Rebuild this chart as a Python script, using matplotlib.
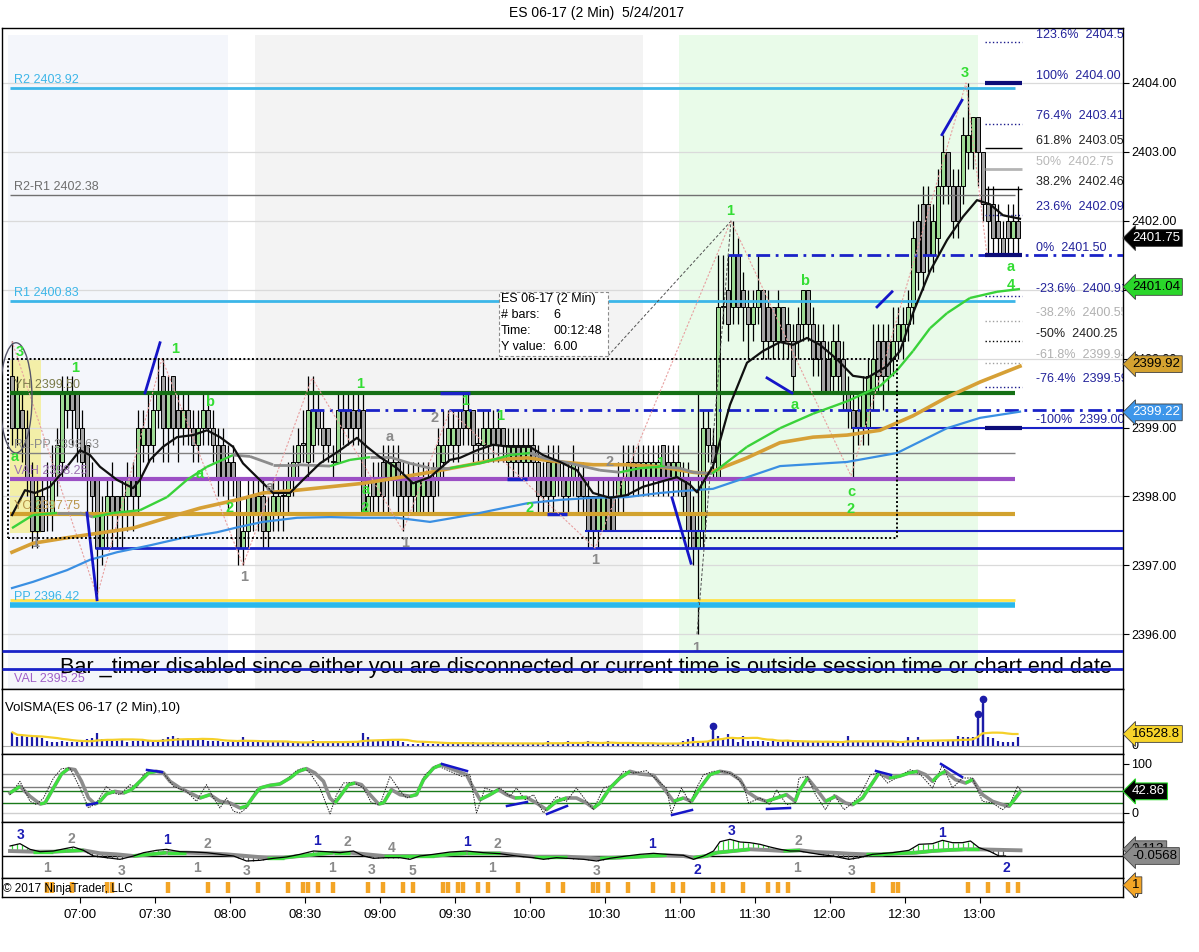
import numpy as np
import pandas as pd
import matplotlib
matplotlib.use("Agg")
import matplotlib.pyplot as plt
from matplotlib.patches import Rectangle, Ellipse
from matplotlib.collections import LineCollection

plt.rcParams['font.family'] = ['Liberation Sans', 'DejaVu Sans']

# ---------------------------------------------------------------- data
opens = [2399.75,2399.0,2399.25,2399.0,2398.25,2397.5,2398.0,2397.75,2397.75,2398.25,
 2398.5,2399.25,2399.5,2399.5,2399.0,2398.75,2398.25,2398.25,2397.25,2397.75,
 2398.0,2398.0,2397.75,2398.0,2398.25,2398.0,2398.75,2399.0,2398.75,2399.25,
 2399.75,2399.0,2399.75,2399.25,2399.0,2399.25,2399.0,2398.75,2399.0,2399.25,
 2399.0,2398.75,2398.75,2398.5,2398.5,2398.25,2397.25,2397.5,2398.0,2397.75,
 2398.0,2397.5,2397.75,2397.75,2398.0,2398.0,2398.25,2398.5,2398.75,2398.5,
 2398.75,2399.25,2399.0,2399.0,2398.5,2398.5,2399.25,2399.25,2399.25,2399.25,
 2399.25,2397.75,2398.25,2398.0,2398.5,2398.25,2398.25,2398.5,2398.25,2398.25,
 2398.0,2397.75,2398.0,2398.25,2398.25,2398.25,2398.5,2398.75,2398.75,2399.0,
 2399.25,2399.0,2399.25,2398.75,2398.75,2398.75,2399.0,2399.0,2399.0,2398.5,
 2398.5,2398.75,2398.5,2398.5,2398.75,2398.5,2398.25,2398.5,2398.0,2398.5,
 2398.25,2398.0,2398.25,2398.25,2398.25,2398.0,2398.0,2397.5,2397.5,2398.0,
 2398.0,2398.0,2398.0,2398.25,2398.5,2398.5,2398.25,2398.25,2398.25,2398.25,
 2398.75,2398.5,2398.25,2398.25,2398.25,2398.25,2397.75,2397.25,2397.5,2399.0,
 2398.75,2398.25,2400.75,2401.0,2400.75,2401.5,2401.0,2400.75,2400.5,2400.75,
 2401.0,2400.75,2400.75,2400.25,2400.75,2400.5,2400.25,2400.5,2400.5,2401.0,
 2400.5,2400.25,2400.25,2400.0,2399.75,2400.25,2400.0,2399.5,2399.25,2399.25,
 2399.0,2399.0,2399.5,2400.25,2400.25,2400.25,2400.0,2400.25,2400.25,2400.5,
 2400.75,2402.0,2402.25,2402.25,2401.5,2401.75,2402.5,2403.0,2402.5,2402.5,
 2402.5,2403.0,2403.0,2403.5,2403.0,2402.25,2402.25,2402.0,2401.75,2402.0,
 2401.75,2402.0]
highs = [2400.25,2399.75,2399.5,2399.25,2398.5,2398.25,2398.25,2398.5,2398.75,2399.0,
 2399.75,2399.75,2399.75,2399.5,2399.25,2398.75,2398.5,2398.25,2398.0,2398.25,
 2398.5,2398.0,2398.25,2398.5,2398.5,2399.25,2399.25,2399.5,2399.5,2400.0,
 2400.0,2399.75,2399.75,2399.5,2399.5,2399.5,2399.25,2399.25,2399.5,2399.5,
 2399.25,2399.0,2399.0,2398.75,2398.75,2398.25,2397.75,2398.25,2398.25,2398.25,
 2398.25,2398.0,2398.25,2398.25,2398.25,2398.5,2398.75,2399.0,2399.25,2399.75,
 2399.75,2399.5,2399.25,2399.0,2398.75,2399.5,2399.5,2399.5,2399.5,2399.5,
 2399.5,2398.25,2398.5,2398.5,2398.75,2398.75,2398.75,2398.75,2398.5,2398.5,
 2398.5,2398.5,2398.5,2398.5,2398.5,2399.0,2399.25,2399.25,2399.25,2399.25,
 2399.5,2399.5,2399.25,2399.0,2399.25,2399.25,2399.25,2399.25,2399.0,2399.0,
 2399.0,2399.0,2399.0,2399.0,2399.0,2398.75,2398.5,2398.75,2398.75,2398.75,
 2398.5,2398.5,2398.75,2398.5,2398.5,2398.25,2398.0,2398.25,2398.25,2398.25,
 2398.25,2398.5,2398.75,2398.75,2398.75,2398.75,2398.75,2398.75,2398.75,2398.75,
 2398.75,2398.75,2398.75,2398.75,2398.5,2398.5,2398.0,2399.5,2399.25,2399.25,
 2399.0,2401.5,2401.5,2401.5,2402.0,2401.75,2401.25,2401.0,2401.0,2401.5,
 2401.0,2401.0,2400.75,2401.0,2400.75,2400.75,2400.5,2400.75,2401.0,2401.0,
 2400.75,2400.5,2400.5,2400.25,2400.5,2400.5,2400.25,2399.75,2399.5,2399.5,
 2399.75,2400.0,2400.5,2400.5,2400.5,2400.5,2400.75,2400.75,2400.75,2401.0,
 2402.0,2402.25,2402.5,2402.5,2402.25,2402.75,2403.25,2403.0,2402.75,2402.75,
 2403.5,2404.0,2403.5,2403.5,2403.0,2402.5,2402.5,2402.25,2402.0,2402.25,
 2402.25,2402.5]
lows = [2398.75,2398.75,2398.5,2398.0,2397.25,2397.25,2397.5,2397.5,2397.5,2398.0,
 2398.25,2399.0,2398.75,2398.5,2398.25,2397.75,2397.75,2396.5,2397.0,2397.25,
 2397.25,2397.25,2397.25,2397.5,2397.5,2397.75,2398.5,2398.5,2398.5,2399.0,
 2398.5,2398.5,2398.75,2398.5,2398.75,2398.75,2398.5,2398.5,2398.75,2398.75,
 2398.5,2398.0,2398.0,2397.75,2398.0,2397.0,2397.0,2397.25,2397.5,2397.5,
 2397.25,2397.25,2397.5,2397.5,2397.5,2397.75,2398.0,2398.25,2398.5,2398.25,
 2398.5,2398.75,2398.5,2398.5,2398.25,2398.5,2398.75,2398.75,2398.75,2398.75,
 2397.75,2397.75,2397.75,2397.75,2397.75,2397.75,2398.0,2397.75,2397.5,2397.75,
 2397.75,2397.75,2397.75,2397.75,2397.75,2398.0,2398.25,2398.5,2398.5,2398.5,
 2398.75,2398.75,2398.5,2398.5,2398.5,2398.5,2398.5,2398.5,2398.5,2398.25,
 2398.25,2398.25,2398.25,2398.25,2398.25,2397.75,2397.75,2397.75,2397.75,2398.0,
 2397.75,2397.75,2398.0,2397.75,2397.75,2397.25,2397.25,2397.25,2397.5,2397.5,
 2397.5,2397.75,2397.75,2398.0,2398.0,2398.0,2398.0,2398.0,2398.0,2398.0,
 2398.0,2398.0,2398.0,2398.0,2397.75,2397.25,2397.0,2396.0,2397.25,2398.5,
 2398.25,2398.25,2400.5,2400.25,2400.5,2400.5,2400.25,2400.0,2400.25,2400.5,
 2400.0,2400.0,2400.0,2400.0,2400.0,2400.0,2399.5,2400.0,2400.25,2400.25,
 2399.75,2399.75,2399.5,2399.5,2399.5,2399.5,2399.25,2399.0,2398.25,2398.75,
 2398.75,2398.75,2399.25,2399.5,2399.25,2399.5,2399.75,2400.0,2400.0,2400.25,
 2400.5,2401.0,2401.0,2401.25,2401.25,2401.5,2402.25,2402.25,2401.75,2401.75,
 2402.25,2402.75,2402.75,2402.5,2402.0,2401.5,2401.5,2401.5,2401.5,2401.5,
 2401.5,2401.5]
closes = [2399.0,2399.5,2399.0,2398.25,2397.5,2398.0,2397.5,2397.75,2398.25,2398.75,
 2399.5,2399.5,2399.25,2399.0,2398.5,2398.25,2398.0,2397.25,2397.75,2398.0,
 2397.75,2397.75,2398.0,2398.25,2398.0,2399.0,2399.0,2398.75,2399.25,2399.5,
 2399.0,2399.5,2399.0,2399.0,2399.25,2399.0,2398.75,2399.0,2399.25,2399.0,
 2398.75,2398.25,2398.25,2398.25,2398.25,2397.25,2397.5,2398.0,2397.75,2398.0,
 2397.5,2397.75,2398.0,2398.0,2398.0,2398.25,2398.5,2398.75,2398.75,2399.25,
 2399.25,2399.0,2398.75,2398.75,2398.5,2399.25,2399.0,2399.0,2399.0,2399.0,
 2397.75,2398.0,2398.0,2398.25,2398.0,2398.5,2398.5,2398.0,2398.0,2398.0,
 2398.25,2398.25,2398.25,2398.0,2398.0,2398.75,2398.75,2399.0,2399.0,2398.75,
 2399.0,2399.25,2398.75,2398.75,2399.0,2399.0,2398.75,2398.75,2398.75,2398.75,
 2398.75,2398.5,2398.75,2398.75,2398.5,2398.0,2398.0,2398.0,2398.5,2398.25,
 2398.0,2398.25,2398.5,2398.0,2398.0,2397.5,2397.5,2398.0,2398.0,2397.5,
 2397.5,2398.25,2398.25,2398.5,2398.25,2398.25,2398.5,2398.5,2398.5,2398.5,
 2398.25,2398.25,2398.5,2398.5,2398.0,2397.5,2397.25,2397.5,2399.0,2398.75,
 2398.5,2400.75,2400.75,2400.5,2401.5,2400.75,2400.75,2400.5,2400.75,2401.0,
 2400.25,2400.25,2400.25,2400.75,2400.25,2400.25,2399.75,2400.25,2401.0,2400.5,
 2400.0,2400.0,2399.5,2399.5,2400.25,2399.75,2399.5,2399.25,2399.0,2399.0,
 2399.5,2399.75,2400.0,2399.75,2399.75,2399.75,2400.25,2400.5,2400.5,2400.75,
 2401.75,2401.25,2401.25,2401.5,2402.0,2402.5,2403.0,2402.5,2402.0,2402.0,
 2403.25,2403.25,2403.5,2403.0,2402.25,2402.0,2401.75,2401.75,2401.5,2401.75,
 2402.0,2401.75]
volumes = [16900,10600,12700,10600,10600,10600,9700,6400,4200,4200,
 6400,4200,4200,4200,6400,8500,9700,15700,8500,7200,
 6400,6400,7200,4200,6400,6400,7200,6400,4200,7200,
 8500,10600,12700,9700,8500,8500,7200,7200,7200,6400,
 6400,5500,4200,4200,5500,6400,10600,6400,6400,4200,
 4200,4200,4200,4200,4200,5100,4200,4200,4200,4200,
 7200,4200,5100,4200,4200,4200,5100,5500,4200,6400,
 15700,10600,7200,6400,6400,6400,6400,6400,
 4200,2900,2900,2900,6400,2900,2900,2900,2900,4200,
 2900,2900,2900,2900,4200,2900,2900,2900,4200,2900,
 2900,2900,2900,2900,2900,2900,2900,2900,2900,6400,
 2900,2900,2900,6400,2900,2900,2900,6400,2900,2900,
 2900,6400,2900,2900,2900,2900,2900,2900,2900,2900,
 2900,2900,2900,2900,2900,2900,6400,8500,10600,
 6400,4200,6400,19100,12700,8500,14800,8500,4200,12700,
 6400,6400,6400,6400,4200,6400,4200,6400,6400,6400,
 5100,4200,5100,4200,5100,4200,5100,5100,4200,5100,
 12700,5100,5100,4200,5100,4200,5100,5100,4200,5100,5100,
 5100,11400,5100,11400,5100,6400,5100,6400,5100,6400,
 6400,12700,10600,10600,11400,33900,52900,10600,9700,6400,
 4200,4200,4200,10600]
volume_spikes = [140, 193, 194]
signal_bars = [7,8,12,19,20,31,39,43,49,55,58,59,61,64,71,74,78,80,86,87,89,90,93,95,
               101,107,110,116,117,119,123,128,132,134,140,142,146,151,153,155,
               172,176,177,191,195,199,201]

# moving averages (bar index, price)
ma_black_idx = [-0.1,2.5,4.5,7.5,10.9,13.5,15.5,17.5,20.9,24.1,25.5,27.5,30.1,32.9,36.1,
 38.9,41.5,44.1,46.1,48.9,52.1,55.5,58.1,61.5,65.5,68.9,70.9,73.5,76.9,80.1,83.5,87.5,
 89.5,92.9,96.1,99.5,103.5,106.1,109.5,112.9,116.1,119.5,122.9,126.1,129.5,132.9,135.5,
 136.9,140.1,143.5,146.9,150.1,153.5,156.1,158.9,161.5,164.9,168.1,170.9,174.9,177.5,
 180.1,183.5,186.9,190.1,192.9,195.5,198.1,201.5]
ma_black_val = [2397.73,2398.09,2398.05,2398.14,2398.43,2398.67,2398.60,2398.43,2398.24,
 2398.12,2398.24,2398.53,2398.72,2398.86,2398.89,2398.96,2398.86,2398.72,2398.48,2398.28,
 2398.05,2398.05,2398.24,2398.48,2398.67,2398.85,2398.72,2398.57,2398.41,2398.19,2398.28,
 2398.53,2398.56,2398.67,2398.75,2398.72,2398.72,2398.60,2398.50,2398.38,2398.05,2397.98,
 2398.02,2398.14,2398.21,2398.28,2398.17,2398.06,2398.44,2399.33,2399.94,2400.11,2400.24,
 2400.20,2400.30,2400.20,2399.99,2399.75,2399.72,2399.89,2400.11,2400.66,2401.27,2401.72,
 2402.06,2402.30,2402.24,2402.08,2402.03]
ma_green_idx = [-0.1,4.1,8.9,13.5,16.1,20.1,25.5,30.9,34.9,38.9,44.1,47.5,52.1,56.9,63.5,
 67.5,71.5,75.5,79.5,83.5,87.5,91.5,93.5,99.5,103.5,106.1,111.5,117.5,121.5,125.5,129.5,
 133.5,136.1,139.9,146.9,153.5,160.1,166.9,173.5,176.9,180.1,183.5,186.9,191.5,196.9,201.5]
ma_green_val = [2397.54,2397.73,2397.76,2397.76,2397.70,2397.76,2397.80,2397.99,2398.24,
 2398.43,2398.60,2398.58,2398.46,2398.46,2398.44,2398.53,2398.57,2398.57,2398.48,2398.41,
 2398.41,2398.46,2398.48,2398.60,2398.63,2398.56,2398.48,2398.38,2398.35,2398.41,2398.43,
 2398.41,2398.35,2398.33,2398.72,2398.99,2399.20,2399.38,2399.60,2399.83,2400.11,2400.44,
 2400.66,2400.88,2400.97,2401.01]
ma_gold_idx = [-0.1,4.1,10.9,17.5,24.1,30.9,37.5,45.5,50.1,56.9,63.5,70.1,76.9,83.5,91.5,
 96.1,102.9,109.5,116.1,122.9,129.5,136.1,138.9,146.9,153.5,160.1,166.9,173.5,180.1,
 186.9,193.5,201.5]
ma_gold_val = [2397.19,2397.32,2397.40,2397.47,2397.54,2397.69,2397.83,2397.96,2398.05,
 2398.09,2398.14,2398.19,2398.27,2398.35,2398.46,2398.53,2398.56,2398.50,2398.46,2398.46,
 2398.43,2398.35,2398.33,2398.56,2398.78,2398.86,2398.89,2398.96,2399.17,2399.44,2399.66,
 2399.89]
ma_blue_idx = [-0.1,4.1,10.9,15.5,20.9,27.5,34.1,40.9,45.5,50.1,56.9,63.5,70.1,76.9,83.5,
 91.5,96.1,102.9,109.5,116.1,122.9,129.5,136.1,140.1,153.5,166.9,176.9,186.9,193.5,201.5]
ma_blue_val = [2396.67,2396.76,2396.93,2397.08,2397.19,2397.29,2397.40,2397.48,2397.56,
 2397.63,2397.69,2397.70,2397.69,2397.69,2397.63,2397.73,2397.80,2397.90,2397.95,2397.98,
 2397.99,2398.05,2398.09,2398.11,2398.44,2398.50,2398.63,2398.99,2399.14,2399.23]

# stochastics (bar index, value)
stoch_idx = [-0.5,1.5,3.5,5.5,6.5,8.2,9.8,11.2,12.5,13.8,15.2,16.5,17.5,18.8,20.5,22.2,
 23.8,25.5,27.2,28.8,30.2,31.5,33.5,35.5,37.5,39.5,41.5,43.5,45.5,46.8,48.2,49.5,51.5,
 53.5,55.5,57.2,58.8,60.5,62.2,63.5,64.5,65.5,67.2,68.5,69.8,71.5,73.2,74.2,75.8,
 77.5,79.5,80.8,82.2,84.2,85.8,88.2,90.8,91.8,93.5,95.5,97.2,98.8,100.5,102.8,104.8,
 106.8,108.8,110.8,112.8,114.8,116.2,117.5,119.5,121.5,123.5,125.5,128.2,130.2,132.2,
 134.2,135.8,137.5,139.5,141.5,143.5,145.5,146.8,148.8,150.8,152.8,154.8,156.5,
 157.3,159.0,160.6,162.6,164.6,166.6,168.0,170.0,171.3,173.3,175.3,177.3,179.3,181.0,
 182.6,184.0,185.3,186.6,188.6,190.6,192.0,194.0,196.0,198.0,199.3,200.6,201.6]
stoch_val = [40.8,54.4,34.0,18.4,20.4,51.0,79.6,90.5,88.4,64.6,30.6,18.4,23.8,38.8,44.2,
 40.8,47.6,64.6,81.6,85.0,81.6,64.6,51.0,40.8,30.6,37.4,23.8,20.4,10.2,13.6,34.0,51.0,
 56.5,59.2,71.4,85.0,90.5,81.6,64.6,30.6,20.4,34.0,57.8,61.2,57.8,37.4,18.4,20.4,47.6,
 37.4,34.0,37.4,68.0,91.8,98.6,88.4,78.2,57.8,27.2,37.4,47.6,37.4,30.6,31.9,20.4,6.8,
 23.8,30.6,30.6,20.4,10.2,20.4,51.0,71.4,85.0,79.6,76.9,51.0,23.8,30.6,23.8,51.0,78.2,
 85.0,81.6,68.0,44.2,30.6,23.8,30.6,37.4,23.8,
 44.2,71.4,51.0,23.8,34.0,20.4,17.0,30.6,51.0,81.6,71.4,74.8,81.6,85.0,78.2,64.6,78.2,
 85.0,68.0,61.2,68.0,37.4,23.8,17.0,13.6,30.6,44.2]
stoch_raw_idx = [-0.5,1.5,3.5,4.8,6.2,8.2,9.8,11.5,13.5,15.2,16.8,18.8,20.2,21.5,23.5,
 24.8,26.2,27.5,30.2,32.2,34.8,36.8,38.8,40.2,41.5,42.8,44.2,45.5,46.8,48.8,50.8,52.8,
 54.8,56.8,58.2,59.5,61.5,63.5,64.8,66.2,68.2,70.2,71.8,73.5,75.5,
 77.5,78.8,80.8,82.5,84.8,87.5,89.8,91.5,92.8,94.5,96.2,97.5,99.5,100.8,102.5,104.2,
 106.2,108.8,110.8,112.8,114.8,116.2,118.2,120.2,122.2,124.2,126.8,128.8,130.8,131.8,
 133.8,135.5,136.8,138.2,140.2,142.2,144.2,146.2,147.2,149.5,151.5,152.8,154.8,156.5,
 157.3,159.0,160.6,162.6,164.3,166.3,168.0,169.6,171.6,173.3,175.0,177.3,179.6,181.6,
 184.0,186.0,188.0,190.0,192.0,194.0,196.0,198.0,199.6,201.0,201.6]
stoch_raw_val = [37.4,64.6,23.8,17.0,30.6,71.4,90.5,91.8,51.0,10.2,20.4,54.4,40.8,37.4,
 57.8,51.0,78.2,86.4,81.6,54.4,44.2,23.8,57.8,30.6,10.2,30.6,3.4,0,10.2,47.6,54.4,57.8,
 68.0,86.4,91.8,81.6,51.0,-2,37.4,61.2,62.6,51.0,20.4,17.0,74.8,
 45,30.6,37.4,78.2,97.3,85.0,74.8,78.2,0,51.0,44.2,51.0,34.0,51.0,27.2,37.4,0,34.0,
 23.8,51.0,23.8,6.8,51.0,57.8,85.0,81.6,86.4,68.0,51.0,0,51.0,20.4,51.0,78.2,85.0,85.0,
 78.2,57.8,20.4,30.6,17.0,47.6,17.0,20.4,
 71.4,74.8,37.4,6.8,37.4,6.8,20.4,37.4,78.2,81.6,61.2,74.8,88.4,78.2,51.0,98.6,51.0,
 71.4,71.4,23.8,20.4,6.8,20.4,54.4,47.6]

# MACD-style oscillator (bar index, value)
sig_idx = [-0.5,4.2,8.2,10.8,14.2,17.5,20.8,24.2,27.5,30.8,34.8,38.8,42.8,46.8,50.8,54.2,
 57.5,60.8,64.2,67.5,70.8,74.2,77.5,84.2,87.5,90.8,97.5,100.8,104.2,110.8,114.2,117.5,
 120.8,124.2,127.5,130.8,134.2,136.2,138.8,140.8,144.2,147.5,150.8,154.2,157.5,160.6,
 164.0,167.3,170.6,174.0,177.3,180.6,184.0,187.3,190.6,193.3,196.0,198.6,201.6]
sig_val = [0.125,0.108,0.108,0.125,0.142,0.067,0.042,0,0.042,0.083,0.083,0.067,0.042,0,
 -0.042,-0.042,0,0.042,0.083,0.083,0.042,0,0,0,0.042,0.067,0.067,0.025,-0.017,-0.017,
 -0.042,-0.058,-0.042,-0.025,0,0.017,0,-0.042,0,0.083,0.125,0.167,0.15,0.125,0.142,0.1,
 0.083,0.058,0.042,0.042,0.067,0.083,0.125,0.15,0.167,0.167,0.158,0.15,0.142]
macd_idx = [-0.5,1.5,3.5,5.5,8.2,10.8,12.2,14.2,16.2,18.8,21.5,24.2,26.2,28.8,30.8,33.5,
 36.2,38.8,41.5,44.2,46.8,49.5,52.2,54.8,57.5,60.2,62.8,65.5,68.2,70.2,72.2,74.8,77.5,
 79.5,81.5,84.2,87.5,90.8,94.2,97.5,100.8,104.2,106.2,108.8,110.8,114.2,116.8,119.5,
 122.8,125.5,128.2,130.8,134.2,136.2,138.2,140.2,141.5,143.5,145.5,147.5,149.5,151.5,
 153.5,155.5,157.3,159.3,161.3,164.0,167.3,169.3,172.0,176.0,179.3,181.3,184.0,186.0,
 188.0,190.0,191.6,193.3,195.3,197.3,198.6]
macd_val = [0.25,0.308,0.167,0.108,0.125,0.192,0.225,0.142,0,-0.042,-0.083,0,0.083,0.142,
 0.167,0.108,0.1,0.083,0.042,0,-0.125,-0.108,-0.058,-0.025,0.042,0.125,0.108,0.083,0.125,
 0,-0.058,-0.042,-0.042,-0.083,0,0.042,0.1,0.125,0.083,0.058,0,-0.042,-0.083,-0.042,
 -0.058,-0.083,-0.125,-0.058,0,0.042,0.067,0.042,0.017,-0.083,0,0.125,0.358,0.417,0.35,
 0.333,0.292,0.225,0.167,0.125,0.125,0.083,0.042,0,-0.083,-0.042,0.042,0.083,0.142,
 0.292,0.308,0.392,0.333,0.333,0.375,0.208,0.125,0,0]

# price levels
level_names = ["R2", "R2-R1", "R1", "YH", "R1-PP", "VAH", "YC", "PP", "VAL"]
level_prices = [2403.92, 2402.38, 2400.83, 2399.50, 2398.63, 2398.25, 2397.75, 2396.42, 2395.25]
level_colors = ["#3cb6e8", "#707070", "#3cb6e8", "#157015", "#808080", "#9b4fc4", "#d2a22e", "#2ab8ec", "#9b4fc4"]
level_text_colors = ["#3cb6e8", "#6e6e6e", "#3cb6e8", "#7a7a4a", "#8c8c8c", "#9a70b0", "#b8954a", "#3cb6e8", "#a060c8"]
level_widths = [2.0, 1.0, 2.0, 3.0, 1.0, 3.0, 3.0, 4.0, 0.0]
yl_price = 2396.50

fib_pcts = ["123.6%", "100%", "76.4%", "61.8%", "50%", "38.2%", "23.6%", "0%",
            "-23.6%", "-38.2%", "-50%", "-61.8%", "-76.4%", "-100%"]
fib_prices = [2404.59, 2404.00, 2403.41, 2403.05, 2402.75, 2402.46, 2402.09, 2401.50,
              2400.91, 2400.55, 2400.25, 2399.94, 2399.59, 2399.00]

time_labels = ["07:00", "07:30", "08:00", "08:30", "09:00", "09:30", "10:00",
               "10:30", "11:00", "11:30", "12:00", "12:30", "13:00"]

# ---------------------------------------------------------------- helpers
W, H = 1199, 952
n = len(closes)
times = pd.date_range("2017-05-24 06:33", periods=n, freq="2min")
t0 = pd.Timestamp("2017-05-24 07:00")
bar_m = np.asarray((times - t0) / pd.Timedelta(minutes=1), dtype=float)


def idx2m(idx):
    return -27.0 + 2.0 * np.asarray(idx, dtype=float)


def clock(s):
    return (pd.Timestamp("2017-05-24 " + s) - t0) / pd.Timedelta(minutes=1)


def rect(x0, y0, x1, y1):
    return [x0 / W, 1 - y1 / H, (x1 - x0) / W, (y1 - y0) / H]


fig = plt.figure(figsize=(W / 100, H / 100), dpi=100)
fig.patch.set_facecolor("white")
ax = fig.add_axes(rect(2, 28, 1123, 689))
axv = fig.add_axes(rect(2, 689, 1123, 754))
axs = fig.add_axes(rect(2, 754, 1123, 822))
axm = fig.add_axes(rect(2, 822, 1123, 878))
axe = fig.add_axes(rect(2, 878, 1123, 897))
XL = (clock("06:28") + 0.8, clock("13:57") + 0.2)
for a in (ax, axv, axs, axm, axe):
    a.set_xlim(*XL)
    a.yaxis.tick_right()
    a.tick_params(axis="y", direction="out", length=4, width=0.8, pad=2, labelsize=9)
    a.tick_params(axis="x", bottom=False, labelbottom=False)
    for s in a.spines.values():
        s.set_linewidth(1.0)
        s.set_color("black")

YLO, YHI = 2395.205, 2404.798
ax.set_ylim(YLO, YHI)
ax.set_yticks(np.arange(2396, 2405))
ax.set_yticklabels([f"{v:.2f}" for v in np.arange(2396, 2405)])
for v in np.arange(2396, 2405):
    ax.axhline(v, color="#dadada", lw=0.9, zorder=0.5)

# session shading
ax.add_patch(Rectangle((-28.8, YLO), 59.2 + 28.8, 2404.70 - YLO, fc="#f4f6fb", ec="none", zorder=0.2))
ax.add_patch(Rectangle((70.0, YLO), 225.2 - 70.0, 2404.70 - YLO, fc="#f3f3f3", ec="none", zorder=0.2))
ax.add_patch(Rectangle((239.6, YLO), 359.2 - 239.6, 2404.70 - YLO, fc="#e9fbe9", ec="none", zorder=0.2))
# yellow highlight and ellipse
ax.add_patch(Rectangle((-28.0, 2397.47), 12.4, 2399.98 - 2397.47,
                       fc="#f3ee9a", ec="none", alpha=0.85, zorder=0.3))
ax.add_patch(Ellipse((-25.6, 2399.43), 12.8, 1.6, fill=False, ec="#55556a", lw=1.0, zorder=6))

# candles
ax.vlines(bar_m, lows, highs, color="black", lw=0.9, zorder=2)
for i in range(n):
    o, c = opens[i], closes[i]
    lo, hi = min(o, c), max(o, c)
    fc = "#9edb94" if c > o else "#a3a3a3"
    hgt = max(hi - lo, 0.02)
    ax.add_patch(Rectangle((bar_m[i] - 0.8, lo), 1.6, hgt, fc=fc, ec="black", lw=0.7, zorder=2.2))

# level lines + labels
x_lvl0, x_lvl1 = -28.0, 374.0
for name, p, col, tcol, lw in zip(level_names, level_prices, level_colors, level_text_colors, level_widths):
    if lw > 0:
        ax.hlines(p, x_lvl0, x_lvl1, color=col, lw=lw, zorder=3)
        ax.text(-26.4, p + 0.03, f"{name} {p:.2f}", color=tcol, fontsize=9, va="bottom", ha="left", zorder=6)
    else:
        ax.text(-26.4, p + 0.10, f"{name} {p:.2f}", color=tcol, fontsize=9, va="center", ha="left", zorder=6)
ax.hlines(yl_price, x_lvl0, x_lvl1, color="#ffe24a", lw=2.0, zorder=3)

# blue support / resistance lines
BLUE = "#1a22c8"
ax.hlines(2397.25, 6.0, XL[1], color=BLUE, lw=2.0, zorder=3)
ax.hlines(2397.50, 202.0, XL[1], color=BLUE, lw=1.5, zorder=3)
ax.hlines(2399.00, 308.8, XL[1], color=BLUE, lw=1.5, zorder=3)
ax.hlines(2399.25, 92.0, XL[1], color=BLUE, lw=2.0, linestyles=(0, (5, 2, 1, 2)), zorder=3)
ax.hlines(2401.50, 259.2, XL[1], color=BLUE, lw=2.0, linestyles=(0, (5, 2, 1, 2)), zorder=3)
ax.hlines([2395.75, 2395.50], XL[0], XL[1], color=BLUE, lw=2.0, zorder=7)
ax.hlines(2399.50, 144.0, 156.0, color=BLUE, lw=2.5, zorder=3.5)
ax.hlines(2398.25, 170.8, 178.8, color=BLUE, lw=2.5, zorder=3.5)
ax.hlines(2397.75, 186.8, 194.8, color=BLUE, lw=2.5, zorder=3.5)

# fib levels at right
fx0, fx1 = 362.0, 376.8
fib_styles = {"123.6%": ("#1a1a8c", 1.0, ":"), "100%": ("#0c0c78", 3.0, "-"),
              "76.4%": ("#1a1a8c", 1.0, ":"), "61.8%": ("black", 1.0, "-"),
              "50%": ("#b4b4b4", 2.0, "-"), "38.2%": ("black", 1.0, "-"),
              "23.6%": ("#1a1a8c", 1.0, ":"), "0%": ("#0c0c78", 3.0, "-"),
              "-23.6%": ("#1a1a8c", 1.0, ":"), "-38.2%": ("#a0a0a0", 1.0, ":"),
              "-50%": ("black", 1.0, ":"), "-61.8%": ("#a0a0a0", 1.0, ":"),
              "-76.4%": ("#1a1a8c", 1.0, ":"), "-100%": ("#0c0c78", 3.0, "-")}
fib_text = {"#1a1a8c": "#22229a", "#0c0c78": "#22229a", "black": "#222222",
            "#b4b4b4": "#b8b8b8", "#a0a0a0": "#b0b0b0"}
for pct, p in zip(fib_pcts, fib_prices):
    col, lw, ls = fib_styles[pct]
    ax.hlines(p, fx0, fx1, color=col, lw=lw, linestyles=ls, zorder=4)
    ax.text(382.4, p + 0.02, f"{pct}  {p:.2f}", color=fib_text[col], fontsize=9,
            va="bottom", ha="left", zorder=6, clip_on=True)

# moving averages
ax.plot(idx2m(ma_blue_idx), ma_blue_val, color="#3a8fe2", lw=1.6, zorder=4)
ax.plot(idx2m(ma_gold_idx), ma_gold_val, color="#d6a036", lw=2.6, zorder=4)
gx, gy = idx2m(ma_green_idx), np.asarray(ma_green_val)
segs = [[(gx[k], gy[k]), (gx[k + 1], gy[k + 1])] for k in range(len(gx) - 1)]
cols = ["#3ad23a" if gy[k + 1] - gy[k] > 0.01 else "#8c8c8c" for k in range(len(gx) - 1)]
lws = [1.7 if c == "#3ad23a" else 2.0 for c in cols]
ax.add_collection(LineCollection(segs, colors=cols, linewidths=lws, zorder=4.1))
ax.plot(idx2m(ma_black_idx), ma_black_val, color="#101010", lw=1.6, zorder=4.2)

# zigzag swings
zz_t = [-27.2, 6.8, 32.8, 65.2, 92.8, 129.2, 148.0, 206.0, 260.4, 308.4, 354.4, 362.8]
zz_p = [2400.25, 2396.55, 2400.0, 2397.0, 2399.72, 2397.5, 2399.25, 2397.25, 2402.0, 2398.3, 2404.0, 2401.5]
ax.plot(zz_t, zz_p, color="#e8a0a0", lw=0.8, ls=(0, (2, 1.5)), zorder=3.6)
ax.plot([246.8, 260.4], [2396.0, 2402.0], color="#505050", lw=0.7, ls=(0, (3, 2)), zorder=3.6)
ax.plot([211.2, 260.0], [2400.04, 2401.98], color="#505050", lw=0.7, ls=(0, (3, 2)), zorder=3.6)

# blue trend annotations
blue_marks = [((2.8, 2397.76), (6.8, 2396.50)), ((26.0, 2399.50), (32.0, 2400.23)),
              ((236.8, 2397.98), (244.4, 2397.03)), ((274.8, 2399.72), (284.8, 2399.50)),
              ((318.8, 2400.75), (324.8, 2400.97)), ((344.8, 2403.25), (352.8, 2403.75))]
for (a0, b0), (a1, b1) in blue_marks:
    ax.plot([a0, a1], [b0, b1], color="#1515c8", lw=2.0, zorder=5)

# dotted rectangle
ax.add_patch(Rectangle((-28.8, 2397.40), 326.8 + 28.8, 2400.0 - 2397.40, fill=False,
                       ec="black", lw=1.4, ls=(0, (1, 1.2)), zorder=5))

# wave labels
green_labels = [(-24, 2400.10, "3"), (-2, 2399.86, "1"), (38, 2400.14, "1"), (52, 2399.37, "b"),
                (-26, 2398.57, "a"), (48, 2398.33, "a"), (60, 2397.83, "2"), (112, 2399.63, "1"),
                (114.4, 2398.09, "a"), (114, 2397.83, "2"), (154, 2399.38, "1"), (168, 2399.17, "1"),
                (180, 2397.83, "2"), (232, 2398.48, "1"), (260, 2402.14, "1"), (290, 2401.13, "b"),
                (286, 2399.33, "a"), (308.4, 2398.06, "c"), (308.4, 2397.82, "2"), (354, 2404.15, "3"),
                (372.4, 2401.33, "a"), (372.4, 2401.07, "4")]
for t, p, s in green_labels:
    ax.text(t, p, s, color="#33dd33", fontsize=10.5, fontweight="bold", ha="center", va="center", zorder=6)
gray_labels = [(-18, 2397.32, "1"), (65.6, 2396.83, "1"), (76, 2398.14, "a"), (124, 2398.86, "a"),
               (142, 2399.14, "2"), (130, 2397.32, "1"), (206, 2397.08, "1"), (212, 2398.50, "2"),
               (246.4, 2395.80, "1")]
for t, p, s in gray_labels:
    ax.text(t, p, s, color="#8a8a8a", fontsize=10.5, fontweight="bold", ha="center", va="center", zorder=6)

# info box
ax.add_patch(Rectangle((167.6, 2400.04), 43.6, 0.93, fc="white", ec="#8a8a8a", lw=0.8,
                       ls=(0, (3, 2)), zorder=6))
info_left = ["ES 06-17 (2 Min)", "# bars:", "Time:", "Y value:"]
info_right = ["", "6", "00:12:48", "6.00"]
for k, (l, r) in enumerate(zip(info_left, info_right)):
    yy = 2400.87 - k * 0.235
    ax.text(168.4, yy, l, fontsize=9, va="center", ha="left", zorder=7)
    if r:
        ax.text(189.2, yy, r, fontsize=9, va="center", ha="left", zorder=7)

ax.text(-8.0, 2395.51, "Bar _timer disabled since either you are disconnected or current time is outside session time or chart end date",
        fontsize=15.6, va="center", ha="left", color="black", zorder=6.5)

# right edge price boxes
ytr = ax.get_yaxis_transform()
boxes = [(2401.75, "2401.75", "black", "white"), (2401.04, "2401.04", "#2ad62a", "black"),
         (2399.92, "2399.92", "#d4a230", "black"), (2399.22, "2399.22", "#3d96ea", "white")]
for p, s, fc, tc in boxes:
    ax.text(1.008, p, s, transform=ytr, fontsize=9.5, color=tc, va="center", ha="left",
            bbox=dict(boxstyle="larrow,pad=0.18", fc=fc, ec="#404040", lw=0.6), zorder=8, clip_on=False)

# ---------------------------------------------------------------- volume panel
axv.set_ylim(-10200, 71100)
axv.set_yticks([])
vol = np.asarray(volumes, dtype=float)
axv.axhline(0, color="#b0b0b0", lw=0.8, zorder=1)
axv.vlines(bar_m, 0, vol, color="#1c1ca8", lw=1.6, zorder=2)
sma = pd.Series(vol).rolling(10, min_periods=1).mean().values
axv.plot(bar_m, sma, color="#f5d02a", lw=1.6, zorder=3)
for k in volume_spikes:
    axv.vlines(bar_m[k], 0, vol[k] + 6000, color="#1c1ca8", lw=1.6, zorder=2)
    axv.plot(bar_m[k], vol[k] + 6000, "o", color="#1c1ca8", ms=4.5, zorder=4)
axv.text(0.003, 0.70, "VolSMA(ES 06-17 (2 Min),10)", transform=axv.transAxes, fontsize=9.5, va="center")
yv = axv.get_yaxis_transform()
axv.text(1.008, 0, "0", transform=yv, fontsize=9, va="center", ha="left", clip_on=False)
axv.text(1.008, sma[-1], "16528.8", transform=yv, fontsize=9.5, va="center", ha="left",
         bbox=dict(boxstyle="larrow,pad=0.18", fc="#f7d42a", ec="#404040", lw=0.6), zorder=8, clip_on=False)

# ---------------------------------------------------------------- stochastic panel
axs.set_ylim(-18.4, 120.4)
axs.set_yticks([0, 100])
axs.set_yticklabels(["0", "100"])
for v, c in [(80, "#8c8c8c"), (54, "#7c7c7c"), (45, "#1a7a1a"), (20, "#1a7a1a"), (0, "#cfcfcf")]:
    axs.axhline(v, color=c, lw=1.0, zorder=1)
sx, sy = idx2m(stoch_idx), np.asarray(stoch_val)
axs.plot(sx, sy, color="#8c8c8c", lw=2.6, zorder=2)
segs = [[(sx[k], sy[k]), (sx[k + 1], sy[k + 1])] for k in range(len(sx) - 1) if sy[k + 1] > sy[k]]
axs.add_collection(LineCollection(segs, colors="#3ee03e", linewidths=2.2, zorder=3))
axs.plot(idx2m(stoch_raw_idx), stoch_raw_val, color="#202020", lw=0.7, ls=(0, (1.5, 1.2)), zorder=2.5)
stoch_marks = [((2.8, 16.3), (6.8, 20.4)), ((26.8, 87.8), (32.8, 83.7)),
               ((144.8, 100.0), (154.8, 85.7)), ((170.8, 14.3), (178.8, 22.4)),
               ((186.8, -2.0), (194.8, 14.3)), ((236.8, -4.1), (244.8, 6.1)),
               ((274.8, 8.2), (284.0, 10.2)), ((318.4, 85.7), (324.4, 77.6)),
               ((344.4, 100.0), (352.8, 73.5))]
for (a0, b0), (a1, b1) in stoch_marks:
    axs.plot([a0, a1], [b0, b1], color="#1515c8", lw=1.8, zorder=4)
ys = axs.get_yaxis_transform()
axs.text(1.008, sy[-1], "42.86", transform=ys, fontsize=9.5, color="white", va="center", ha="left",
         bbox=dict(boxstyle="larrow,pad=0.18", fc="black", ec="#2ad62a", lw=0.8), zorder=8, clip_on=False)

# ---------------------------------------------------------------- MACD panel
axm.set_ylim(-0.55, 0.85)
axm.set_yticks([])
axm.axhline(0, color="black", lw=1.0, zorder=1)
mx, my = idx2m(macd_idx), np.asarray(macd_val)
gx2, gy2 = idx2m(sig_idx), np.asarray(sig_val)
hist_m = bar_m[bar_m <= mx[-1]]
hm = np.interp(hist_m, mx, my)
hs = np.interp(hist_m, gx2, gy2)
hcol = ["#34d834" if a > b else "#5a5a5a" for a, b in zip(hm, hs)]
axm.vlines(hist_m, hs, hm, colors=hcol, lw=0.9, zorder=2)
axm.plot(gx2, gy2, color="#8c8c8c", lw=2.8, zorder=3)
segs = [[(gx2[k], gy2[k]), (gx2[k + 1], gy2[k + 1])] for k in range(len(gx2) - 1) if gy2[k + 1] >= gy2[k]]
axm.add_collection(LineCollection(segs, colors="#3ee03e", linewidths=2.4, zorder=3.2))
axm.plot(mx, my, color="black", lw=0.9, zorder=3.5)
macd_labels = [(-23.6, 0.525, "3", "#1c1cb4"), (-3.6, 0.425, "2", "#8a8a8a"), (-13.2, -0.3, "1", "#8a8a8a"),
               (34.8, 0.4, "1", "#1c1cb4"), (50.8, 0.3, "2", "#8a8a8a"), (16.8, -0.375, "3", "#8a8a8a"),
               (46.8, -0.3, "1", "#8a8a8a"), (66.8, -0.375, "3", "#8a8a8a"), (94.8, 0.375, "1", "#1c1cb4"),
               (106.8, 0.35, "2", "#8a8a8a"), (124.8, 0.2, "4", "#8a8a8a"), (100.8, -0.3, "1", "#8a8a8a"),
               (116.8, -0.35, "3", "#8a8a8a"), (132.8, -0.375, "5", "#8a8a8a"), (154.8, 0.35, "1", "#1c1cb4"),
               (166.8, 0.3, "2", "#8a8a8a"), (164.8, -0.3, "1", "#8a8a8a"), (206.8, -0.375, "3", "#8a8a8a"),
               (228.8, 0.3, "1", "#1c1cb4"), (246.8, -0.35, "2", "#1c1cb4"), (260.8, 0.625, "3", "#1c1cb4"),
               (287.2, 0.375, "2", "#8a8a8a"), (286.8, -0.3, "1", "#8a8a8a"), (308.8, -0.375, "3", "#8a8a8a"),
               (344.8, 0.575, "1", "#1c1cb4"), (370.4, -0.3, "2", "#1c1cb4")]
for t, v, s, c in macd_labels:
    axm.text(t, v, s, color=c, fontsize=10, fontweight="bold", ha="center", va="center", zorder=5, clip_on=True)
ym = axm.get_yaxis_transform()
axm.text(1.008, 0.17, "0.112", transform=ym, fontsize=9.5, color="black", va="center", ha="left",
         bbox=dict(boxstyle="larrow,pad=0.18", fc="#8a8a8a", ec="#404040", lw=0.6), zorder=8, clip_on=False)
axm.text(1.008, 0.0, "-0.0568", transform=ym, fontsize=9.5, color="black", va="center", ha="left",
         bbox=dict(boxstyle="larrow,pad=0.18", fc="#8a8a8a", ec="#404040", lw=0.6), zorder=9, clip_on=False)

# ---------------------------------------------------------------- signal panel
axe.set_ylim(0, 1)
axe.set_yticks([])
axe.vlines(bar_m[signal_bars], 0.21, 0.79, color="#f3a526", lw=3.2, zorder=2)
axe.text(0.001, 0.42, "\u00a9 2017 NinjaTrader, LLC", transform=axe.transAxes, fontsize=8.5,
         va="center", ha="left", zorder=5)
ye = axe.get_yaxis_transform()
axe.text(1.008, 0.1, "0", transform=ye, fontsize=9, va="center", ha="left", clip_on=False)
axe.text(1.008, 0.62, "1", transform=ye, fontsize=9.5, va="center", ha="left",
         bbox=dict(boxstyle="larrow,pad=0.18", fc="#f3a526", ec="#404040", lw=0.6), zorder=8, clip_on=False)
axe.set_xticks([clock(s) for s in time_labels])
axe.set_xticklabels(time_labels)
axe.tick_params(axis="x", bottom=True, labelbottom=True, direction="out", length=4, width=0.8,
                pad=5, labelsize=9.5)

fig.text(597 / W, 1 - 13 / H, "ES 06-17 (2 Min)  5/24/2017", ha="center", va="center", fontsize=10)

fig.savefig("out.png", dpi=100)
